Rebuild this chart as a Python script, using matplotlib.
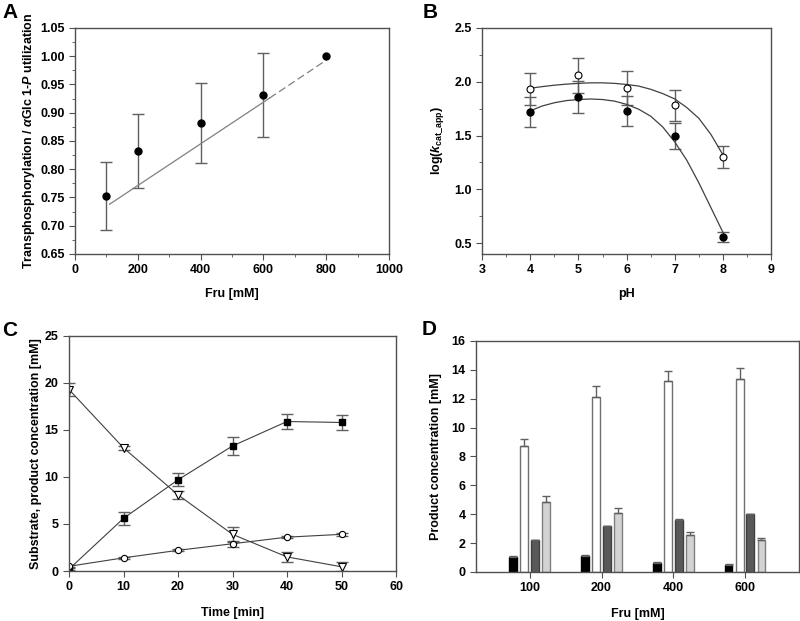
import matplotlib
matplotlib.use("Agg")
import matplotlib.pyplot as plt
import matplotlib.ticker as ticker
import numpy as np

plt.rcParams['font.family'] = ['Liberation Sans', 'DejaVu Sans']
plt.rcParams['font.weight'] = 'bold'
plt.rcParams['axes.labelweight'] = 'bold'
plt.rcParams['font.size'] = 9
plt.rcParams['mathtext.fontset'] = 'custom'
plt.rcParams['mathtext.rm'] = 'Liberation Sans:bold'
plt.rcParams['mathtext.it'] = 'Liberation Sans:bold:italic'
plt.rcParams['mathtext.bf'] = 'Liberation Sans:bold'
plt.rcParams['axes.linewidth'] = 1.0

FRAME = '#505050'
LINE = '#404040'
ERR = '#606060'

# Panel A
a_fru = [100, 200, 400, 600, 800]
a_ratio = [0.753, 0.832, 0.882, 0.931, 1.000]
a_err = [0.060, 0.066, 0.071, 0.074, 0.0]
a_fit_solid_x = [110, 620]
a_fit_solid_y = [0.738, 0.926]
a_fit_dash_x = [620, 800]
a_fit_dash_y = [0.926, 0.993]

# Panel B
b_ph = [4, 5, 6, 7, 8]
b_open = [1.93, 2.06, 1.94, 1.78, 1.30]
b_open_err = [0.15, 0.16, 0.16, 0.14, 0.10]
b_filled = [1.72, 1.86, 1.73, 1.50, 0.56]
b_filled_err = [0.14, 0.15, 0.14, 0.12, 0.045]
b_curve_ph = [4.0, 4.25, 4.5, 4.75, 5.0, 5.25, 5.5, 5.75, 6.0, 6.25, 6.5, 6.75, 7.0, 7.25, 7.5, 7.75, 8.0]
b_curve_open = [1.94, 1.955, 1.968, 1.978, 1.985, 1.99, 1.99, 1.985, 1.975, 1.96, 1.93, 1.89, 1.84, 1.76, 1.66, 1.51, 1.32]
b_curve_filled = [1.73, 1.775, 1.805, 1.825, 1.835, 1.84, 1.835, 1.82, 1.79, 1.745, 1.68, 1.58, 1.44, 1.27, 1.06, 0.83, 0.60]

# Panel C
c_time = [0, 10, 20, 30, 40, 50]
c_substrate = [19.3, 13.1, 8.1, 3.9, 1.5, 0.45]
c_substrate_err = [0.7, 0.2, 0.4, 0.8, 0.5, 0.5]
c_square = [0.2, 5.6, 9.7, 13.3, 15.9, 15.8]
c_square_err = [0.1, 0.7, 0.7, 1.0, 0.8, 0.8]
c_circle = [0.5, 1.4, 2.2, 2.9, 3.6, 3.9]
c_circle_err = [0.1, 0.1, 0.1, 0.3, 0.1, 0.15]

# Panel D
d_fru = ['100', '200', '400', '600']
d_black = [1.05, 1.08, 0.65, 0.50]
d_black_err = [0.05, 0.06, 0.03, 0.03]
d_white = [8.7, 12.15, 13.2, 13.35]
d_white_err = [0.5, 0.7, 0.75, 0.8]
d_dark = [2.2, 3.15, 3.6, 4.0]
d_dark_err = [0.04, 0.04, 0.04, 0.04]
d_light = [4.85, 4.1, 2.55, 2.2]
d_light_err = [0.4, 0.3, 0.2, 0.15]

fig = plt.figure(figsize=(8, 6.21), dpi=100)


def style(ax):
    for s in ax.spines.values():
        s.set_color(FRAME)
    ax.tick_params(which='both', direction='out', colors=FRAME, labelcolor='black')
    ax.tick_params(which='major', length=4)
    ax.tick_params(which='minor', length=2)


# ---- A
axA = fig.add_axes([0.09375, 0.591, 0.3925, 0.364])
axA.errorbar(a_fru[:4], a_ratio[:4], yerr=a_err[:4], fmt='none', ecolor=ERR, elinewidth=1, capsize=4)
axA.plot(a_fit_solid_x, a_fit_solid_y, color='#808080', lw=0.9)
axA.plot(a_fit_dash_x, a_fit_dash_y, color='#808080', lw=0.9, ls=(0, (6, 3)))
axA.plot(a_fru, a_ratio, 'o', color='black', ms=5)
axA.set_xlim(0, 1000)
axA.set_ylim(0.65, 1.05)
axA.xaxis.set_major_locator(ticker.MultipleLocator(200))
axA.xaxis.set_minor_locator(ticker.MultipleLocator(100))
axA.yaxis.set_major_locator(ticker.MultipleLocator(0.05))
axA.yaxis.set_minor_locator(ticker.MultipleLocator(0.025))
axA.yaxis.set_major_formatter(ticker.FormatStrFormatter('%.2f'))
axA.set_xlabel('Fru [mM]', labelpad=8)
axA.set_ylabel(r'Transphosphorylation / $\alpha$Glc 1-$\mathit{P}$ utilization', labelpad=2)
style(axA)

# ---- B
axB = fig.add_axes([0.6025, 0.591, 0.3615, 0.364])
axB.errorbar(b_ph, b_open, yerr=b_open_err, fmt='none', ecolor=ERR, elinewidth=1, capsize=4)
axB.errorbar(b_ph, b_filled, yerr=b_filled_err, fmt='none', ecolor=ERR, elinewidth=1, capsize=4)
axB.plot(b_curve_ph, b_curve_open, color=LINE, lw=0.9)
axB.plot(b_curve_ph, b_curve_filled, color=LINE, lw=0.9)
axB.plot(b_ph, b_open, 'o', mfc='white', mec='black', mew=0.8, ms=5)
axB.plot(b_ph, b_filled, 'o', color='black', ms=5)
axB.set_xlim(3, 9)
axB.set_ylim(0.4, 2.5)
axB.xaxis.set_major_locator(ticker.MultipleLocator(1))
axB.xaxis.set_minor_locator(ticker.MultipleLocator(0.5))
axB.yaxis.set_major_locator(ticker.FixedLocator([0.5, 1.0, 1.5, 2.0, 2.5]))
axB.yaxis.set_minor_locator(ticker.FixedLocator([0.75, 1.25, 1.75, 2.25]))
axB.yaxis.set_major_formatter(ticker.FormatStrFormatter('%.1f'))
axB.set_xlabel('pH', labelpad=8)
axB.set_ylabel(r'log($\mathit{k}_{\mathrm{cat\_app}}$)', labelpad=6)
style(axB)

# ---- C
axC = fig.add_axes([0.08625, 0.0805, 0.40875, 0.3785])
axC.errorbar(c_time, c_substrate, yerr=c_substrate_err, fmt='none', ecolor=ERR, elinewidth=1, capsize=4)
axC.errorbar(c_time, c_square, yerr=c_square_err, fmt='none', ecolor=ERR, elinewidth=1, capsize=4)
axC.errorbar(c_time, c_circle, yerr=c_circle_err, fmt='none', ecolor=ERR, elinewidth=1, capsize=4)
axC.plot(c_time, c_substrate, '-v', color=LINE, lw=0.8, mfc='white', mec='black', mew=0.8, ms=5.5)
axC.plot(c_time, c_square, '-s', color=LINE, lw=0.8, mfc='black', mec='black', ms=5)
axC.plot(c_time, c_circle, '-o', color=LINE, lw=0.8, mfc='white', mec='black', mew=0.8, ms=4.5)
axC.set_xlim(0, 60)
axC.set_ylim(0, 25)
axC.xaxis.set_major_locator(ticker.MultipleLocator(10))
axC.yaxis.set_major_locator(ticker.MultipleLocator(5))
axC.set_xlabel('Time [min]', labelpad=10)
axC.set_ylabel('Substrate, product concentration [mM]', labelpad=2)
style(axC)

# ---- D
axD = fig.add_axes([0.595, 0.079, 0.4035, 0.372])
x = np.arange(len(d_fru))
w = 0.11
offs = [-0.23, -0.075, 0.075, 0.23]
series = [
    (d_black, d_black_err, 'black', 'black'),
    (d_white, d_white_err, 'white', '#707070'),
    (d_dark, d_dark_err, '#595959', '#404040'),
    (d_light, d_light_err, '#d3d3d3', '#808080'),
]
for off, (vals, errs, fc, ec) in zip(offs, series):
    axD.bar(x + off, vals, w, color=fc, edgecolor=ec, linewidth=1,
            yerr=[np.zeros(len(errs)), errs],
            error_kw=dict(ecolor=ERR, elinewidth=1, capsize=3, capthick=1))
axD.set_xlim(-0.75, 3.75)
axD.set_ylim(0, 16)
axD.set_xticks(x)
axD.set_xticklabels(d_fru)
axD.yaxis.set_major_locator(ticker.MultipleLocator(2))
axD.set_xlabel('Fru [mM]', labelpad=10)
axD.set_ylabel('Product concentration [mM]', labelpad=7)
style(axD)

# panel letters
for lab, xx, yy in [('A', 2, 3), ('B', 423, 3), ('C', 2, 321), ('D', 422, 320)]:
    fig.text(xx / 800, 1 - yy / 621, lab, fontsize=15, fontweight='bold', va='top', ha='left')

fig.savefig('out.png', dpi=100)
